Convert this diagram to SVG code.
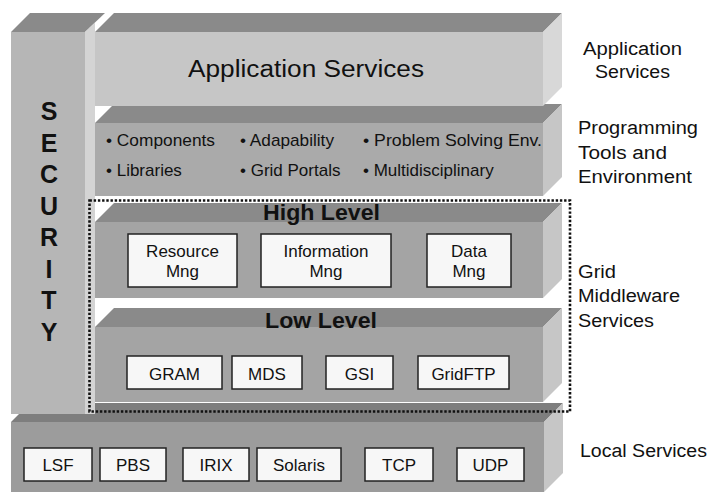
<svg xmlns="http://www.w3.org/2000/svg" width="712" height="494" viewBox="0 0 712 494">
  <style>
    .t { font-family: "Liberation Sans", Arial, Helvetica, sans-serif; fill: #111; }
    .b { font-weight: bold; }
    .top { fill: #8a8a8a; }
    .top-local { fill: #7e7e7e; }
    .front-app { fill: #c6c6c6; }
    .front-prog { fill: #aaaaaa; }
    .front-mid { fill: #a4a4a4; }
    .front-local { fill: #9c9c9c; }
    .front-sec { fill: #b6b6b6; }
    .side-app { fill: #d8d8d8; }
    .side { fill: #c6c6c6; }
    .side-sec { fill: #d4d4d4; }
    .box { fill: #f7f7f7; stroke: #222; stroke-width: 1.5; }
    .frame { fill: none; stroke: #111; stroke-width: 2.6; stroke-dasharray: 2.4 1.8; }
    .lbl { font-size: 17px; text-anchor: middle; }
    .side-lbl { font-size: 18px; }
  </style>

  <!-- Local services slab (bottom, full width) -->
  <g id="local-services">
    <polygon class="top-local" points="11,422 30,403 563,403 544,422"/>
    <rect class="front-local" x="11" y="422" width="533" height="70"/>
    <polygon class="side" points="544,422 563,403 563,473 544,492"/>
    <g id="lsf"><rect class="box" x="24" y="448" width="68" height="33"/><text class="t lbl" x="58" y="471">LSF</text></g>
    <g id="pbs"><rect class="box" x="100" y="448" width="66" height="33"/><text class="t lbl" x="133" y="471">PBS</text></g>
    <g id="irix"><rect class="box" x="183" y="448" width="66" height="33"/><text class="t lbl" x="216" y="471">IRIX</text></g>
    <g id="solaris"><rect class="box" x="257" y="448" width="84" height="33"/><text class="t lbl" x="299" y="471">Solaris</text></g>
    <g id="tcp"><rect class="box" x="365" y="448" width="68" height="33"/><text class="t lbl" x="399" y="471">TCP</text></g>
    <g id="udp"><rect class="box" x="457" y="448" width="67" height="33"/><text class="t lbl" x="490.5" y="471">UDP</text></g>
  </g>

  <!-- Low level middleware slab -->
  <g id="low-level">
    <polygon class="top" points="95,327 114,308 562,308 543,327"/>
    <rect class="front-mid" x="95" y="327" width="448" height="75"/>
    <polygon class="side" points="543,327 562,308 562,383 543,402"/>
    <text class="t b" x="265" y="328" font-size="22" textLength="112" lengthAdjust="spacingAndGlyphs">Low Level</text>
    <g id="gram"><rect class="box" x="127" y="356" width="95" height="33"/><text class="t lbl" x="174.5" y="380">GRAM</text></g>
    <g id="mds"><rect class="box" x="232" y="356" width="70" height="33"/><text class="t lbl" x="267" y="380">MDS</text></g>
    <g id="gsi"><rect class="box" x="326" y="356" width="67" height="33"/><text class="t lbl" x="359.5" y="380">GSI</text></g>
    <g id="gridftp"><rect class="box" x="418" y="356" width="91" height="33"/><text class="t lbl" x="463.5" y="380">GridFTP</text></g>
  </g>

  <!-- High level middleware slab -->
  <g id="high-level">
    <polygon class="top" points="95,222 114,203 562,203 543,222"/>
    <rect class="front-mid" x="95" y="222" width="448" height="76"/>
    <polygon class="side" points="543,222 562,203 562,279 543,298"/>
    <text class="t b" x="263" y="220" font-size="22" textLength="117" lengthAdjust="spacingAndGlyphs">High Level</text>
    <g id="resource-mng"><rect class="box" x="128" y="234" width="109" height="53"/><text class="t lbl" x="182.5" y="257">Resource</text><text class="t lbl" x="182.5" y="277">Mng</text></g>
    <g id="information-mng"><rect class="box" x="261" y="234" width="130" height="53"/><text class="t lbl" x="326" y="257">Information</text><text class="t lbl" x="326" y="277">Mng</text></g>
    <g id="data-mng"><rect class="box" x="427" y="234" width="84" height="53"/><text class="t lbl" x="469" y="257">Data</text><text class="t lbl" x="469" y="277">Mng</text></g>
  </g>

  <!-- Programming tools slab -->
  <g id="programming-tools">
    <polygon class="top" points="95,123 114,104 562,104 543,123"/>
    <rect class="front-prog" x="95" y="123" width="448" height="73"/>
    <polygon class="side" points="543,123 562,104 562,177 543,196"/>
    <text class="t" x="106" y="146" font-size="17" textLength="109" lengthAdjust="spacingAndGlyphs">• Components</text>
    <text class="t" x="240" y="146" font-size="17" textLength="94" lengthAdjust="spacingAndGlyphs">• Adapability</text>
    <text class="t" x="363" y="146" font-size="17" textLength="179" lengthAdjust="spacingAndGlyphs">• Problem Solving Env.</text>
    <text class="t" x="106" y="176" font-size="17">• Libraries</text>
    <text class="t" x="240" y="176" font-size="17">• Grid Portals</text>
    <text class="t" x="363" y="176" font-size="17">• Multidisciplinary</text>
  </g>

  <!-- Application services slab -->
  <g id="application-services">
    <polygon class="top" points="95,32 114,13 562,13 543,32"/>
    <rect class="front-app" x="95" y="32" width="448" height="74"/>
    <polygon class="side-app" points="543,32 562,13 562,87 543,106"/>
    <text class="t" x="188" y="77" font-size="23" textLength="236" lengthAdjust="spacingAndGlyphs">Application Services</text>
  </g>

  <!-- Security column -->
  <g id="security">
    <polygon class="top" points="11,32 30,13 105,13 85,32"/>
    <rect class="front-sec" x="11" y="32" width="74" height="382"/>
    <polygon class="side-sec" points="85,32 95,22.5 95,414 85,414"/>
    <g class="t b" font-size="25" text-anchor="middle">
      <text x="49" y="120">S</text>
      <text x="49" y="151.5">E</text>
      <text x="49" y="183">C</text>
      <text x="49" y="214.5">U</text>
      <text x="49" y="246">R</text>
      <text x="49" y="277.5">I</text>
      <text x="49" y="309">T</text>
      <text x="49" y="340.5">Y</text>
    </g>
  </g>

  <!-- Dotted frame around the middleware slabs -->
  <g id="middleware-frame">
    <rect class="frame" x="89.5" y="200.5" width="480.5" height="211"/>
  </g>

  <!-- Layer captions on the right -->
  <g id="captions">
    <text class="t side-lbl" x="583" y="55" textLength="99" lengthAdjust="spacingAndGlyphs">Application</text>
    <text class="t side-lbl" x="595" y="78" textLength="75" lengthAdjust="spacingAndGlyphs">Services</text>
    <text class="t side-lbl" x="578" y="134" textLength="120" lengthAdjust="spacingAndGlyphs">Programming</text>
    <text class="t side-lbl" x="578" y="159" textLength="89" lengthAdjust="spacingAndGlyphs">Tools and</text>
    <text class="t side-lbl" x="578" y="183" textLength="114" lengthAdjust="spacingAndGlyphs">Environment</text>
    <text class="t side-lbl" x="578" y="278" textLength="38" lengthAdjust="spacingAndGlyphs">Grid</text>
    <text class="t side-lbl" x="578" y="302" textLength="102" lengthAdjust="spacingAndGlyphs">Middleware</text>
    <text class="t side-lbl" x="578" y="327" textLength="76" lengthAdjust="spacingAndGlyphs">Services</text>
    <text class="t side-lbl" x="580" y="457" textLength="127" lengthAdjust="spacingAndGlyphs">Local Services</text>
  </g>
</svg>
